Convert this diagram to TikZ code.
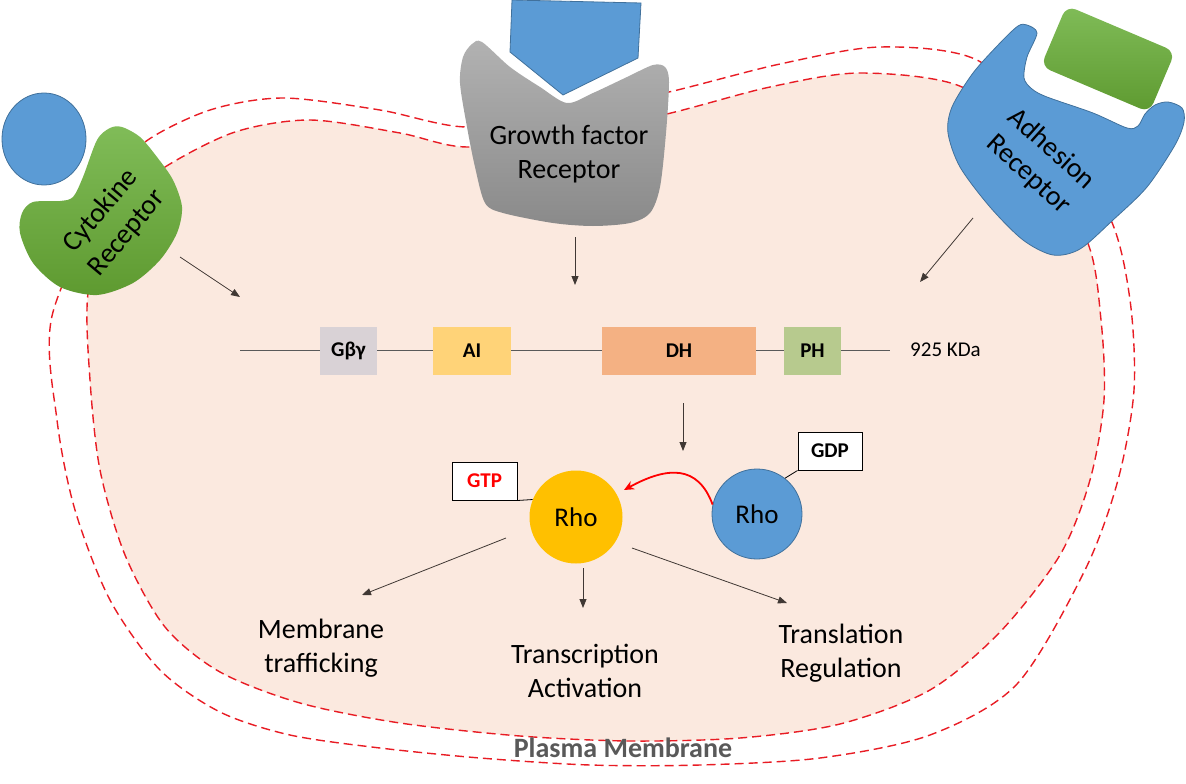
\documentclass[tikz,border=0pt]{standalone}
\usepackage{fontspec}
\setmainfont{Carlito}
\usepackage{xcolor}
\usetikzlibrary{shapes,arrows.meta,positioning,calc}

\definecolor{cellfill}{RGB}{251,233,223}
\definecolor{membred}{RGB}{232,28,36}
\definecolor{recblue}{RGB}{91,155,213}
\definecolor{recblueline}{RGB}{65,113,156}
\definecolor{greentop}{RGB}{128,188,88}
\definecolor{greenbot}{RGB}{94,154,48}
\definecolor{graytop}{RGB}{178,178,178}
\definecolor{graybot}{RGB}{138,138,138}
\definecolor{arrowgray}{RGB}{64,56,52}
\definecolor{gbgfill}{RGB}{217,210,214}
\definecolor{aifill}{RGB}{255,211,120}
\definecolor{dhfill}{RGB}{244,177,131}
\definecolor{phfill}{RGB}{183,202,142}
\definecolor{rhoyellow}{RGB}{255,192,0}
\definecolor{pmgray}{RGB}{89,89,89}

\tikzset{
  membrane/.style={draw=membred, line width=1.4pt, dash pattern=on 9pt off 5pt},
  sig/.style={draw=arrowgray, line width=0.8pt, -{Triangle[length=9pt,width=7pt]}},
  domainbox/.style={minimum height=48pt, inner sep=0pt, font=\fontsize{21}{25}\selectfont\bfseries},
  tagbox/.style={draw, fill=white, line width=1pt, minimum width=65pt, minimum height=38pt, inner sep=0pt, font=\fontsize{21}{25}\selectfont\bfseries},
  rho/.style={circle, minimum size=93pt, inner sep=0pt, font=\fontsize{27}{32}\selectfont},
  bigtext/.style={align=center, font=\fontsize{28}{34}\selectfont},
}

\begin{document}
\begin{tikzpicture}[x=1pt, y=-1pt]
  \useasboundingbox (0,0) rectangle (1186,784);

  % cell and its double membrane
  \draw[membrane, fill=cellfill] plot[smooth cycle] coordinates {
    (88,293) (110,210) (165,167) (235,132) (310,120) (400,133) (467,147)
    (570,135) (671,113) (770,87) (860,73) (962,87) (1030,150) (1087,241)
    (1101,320) (1104,400) (1090,480) (1060,555) (1000,632) (930,690)
    (840,724) (740,738) (630,741) (520,736) (400,723) (300,703)
    (220,672) (165,627) (125,555) (100,470) (90,380)};
  \draw[membrane] plot[smooth cycle] coordinates {
    (52,316) (110,185) (145,142) (210,110) (283,98) (380,110) (467,127)
    (570,112) (669,92) (780,64) (880,47) (977,60) (1050,130) (1110,218)
    (1130,300) (1134,390) (1118,480) (1085,570) (1017,684) (930,735)
    (820,758) (700,765) (590,765) (480,758) (380,748) (290,735)
    (220,712) (160,670) (110,600) (75,510) (57,420)};

  % cytokine receptor
  \draw[recblueline, fill=recblue, line width=0.8pt] (44,139) ellipse (42pt and 46pt);
  \shade[top color=greentop, bottom color=greenbot] plot[smooth cycle] coordinates {
    (110,128) (97,140) (83,177) (73,197) (60,201) (33,202) (22,213)
    (20,233) (33,263) (60,287) (97,295) (133,283) (160,260) (177,233)
    (182,207) (173,180) (157,157) (140,137) (122,127)};
  \node[bigtext, rotate=50] (cyto) at (114,222) {Cytokine\\Receptor};

  % growth factor receptor
  \draw[recblueline, fill=recblue, line width=0.8pt]
    (512,0) -- (641,3) -- (638,58) -- (563,95) -- (510,52) -- cycle;
  \shade[top color=graytop, bottom color=graybot] plot[smooth cycle, tension=0.5] coordinates {
    (482,42) (510,67) (540,87) (567,103) (593,93) (627,77) (653,65)
    (665,67) (669,82) (666,133) (660,187) (650,213) (630,223) (593,226)
    (553,223) (503,213) (485,203) (475,167) (467,127) (460,83) (463,57)
    (472,44)};
  \node[bigtext] (gf) at (569,154) {Growth factor\\Receptor};

  % adhesion receptor
  \shade[top color=greentop, bottom color=greenbot, rounded corners=10pt, rotate around={-23:(1108,59)}]
    (1049,26) rectangle (1167,92);
  \draw[recblueline, fill=recblue, line width=0.8pt] plot[smooth cycle, tension=0.5] coordinates {
    (1027,25) (1037,33) (1027,57) (1024,78) (1032,89) (1047,97) (1093,113)
    (1127,128) (1138,126) (1145,114) (1155,105) (1168,102) (1182,108)
    (1184,122) (1175,145) (1147,187) (1113,220) (1080,249) (1053,255)
    (1023,240) (990,207) (960,167) (948,133) (952,107) (973,73)
    (1000,43) (1018,26)};
  \node[bigtext, rotate=-42] (adh) at (1040,162) {Adhesion\\Receptor};

  % domain bar
  \draw[pmgray, line width=0.8pt] (240,350) coordinate (barL) -- (890,350) coordinate (barR);
  \node[domainbox, fill=gbgfill, minimum width=57pt] (gbg) at (348.5,351) {\raisebox{-5pt}{Gβγ}};
  \node[domainbox, fill=aifill, minimum width=78pt] (ai) at (472,351) {\raisebox{-5pt}{AI}};
  \node[domainbox, fill=dhfill, minimum width=154pt] (dh) at (679,351) {DH};
  \node[domainbox, fill=phfill, minimum width=57pt] (ph) at (812.5,351) {\raisebox{-5pt}{PH}};
  \node[anchor=west, font=\fontsize{21}{25}\selectfont, inner sep=0pt] (kda) at (910,350) {925 KDa};

  % signals to the exchange factor
  \coordinate (cytoS) at (180,257);  \coordinate (cytoE) at (240,297);
  \coordinate (gfS) at (575,237);    \coordinate (gfE) at (575,285);
  \coordinate (adS) at (973,218);    \coordinate (adE) at (920,282);
  \draw[sig] (cytoS) -- (cytoE);
  \draw[sig] (gfS) -- (gfE);
  \draw[sig] (adS) -- (adE);
  \coordinate (dhS) at (683,403);    \coordinate (dhE) at (683,451);
  \draw[sig] (dhS) -- (dhE);

  % Rho cycle
  \node[rho, fill=rhoyellow] (rhoA) at (576,517) {Rho};
  \node[rho, fill=recblue, draw=recblueline, line width=0.8pt, minimum size=90pt] (rhoB) at (757,514) {Rho};
  \node[tagbox, text=red] (gtp) at (484.5,481) {GTP};
  \node[tagbox, minimum width=64pt] (gdp) at (830,451) {GDP};
  \draw[line width=0.8pt] (gtp.south east) -- (rhoA.158);
  \draw[line width=0.8pt] (gdp.south west) -- (rhoB.52);
  \draw[red, line width=1.8pt, -{Stealth[length=10pt,width=9pt]}]
    (rhoB.168) .. controls (698,465) and (668,466) .. (624,490);

  % effects
  \node[bigtext] (traf) at (321,648) {Membrane\\trafficking};
  \node[bigtext] (trans) at (585,671) {Transcription\\Activation};
  \node[bigtext] (regl) at (841,653) {Translation\\Regulation};
  \coordinate (trafS) at (506,538);  \coordinate (trafE) at (362,595);
  \coordinate (transS) at (583,568); \coordinate (transE) at (583,608);
  \coordinate (reglS) at (632,548);  \coordinate (reglE) at (787,603);
  \draw[sig] (trafS) -- (trafE);
  \draw[sig] (transS) -- (transE);
  \draw[sig] (reglS) -- (reglE);

  \node[font=\fontsize{28}{34}\selectfont\bfseries, text=pmgray] (pm) at (623,748) {Plasma Membrane};
\end{tikzpicture}
\end{document}
